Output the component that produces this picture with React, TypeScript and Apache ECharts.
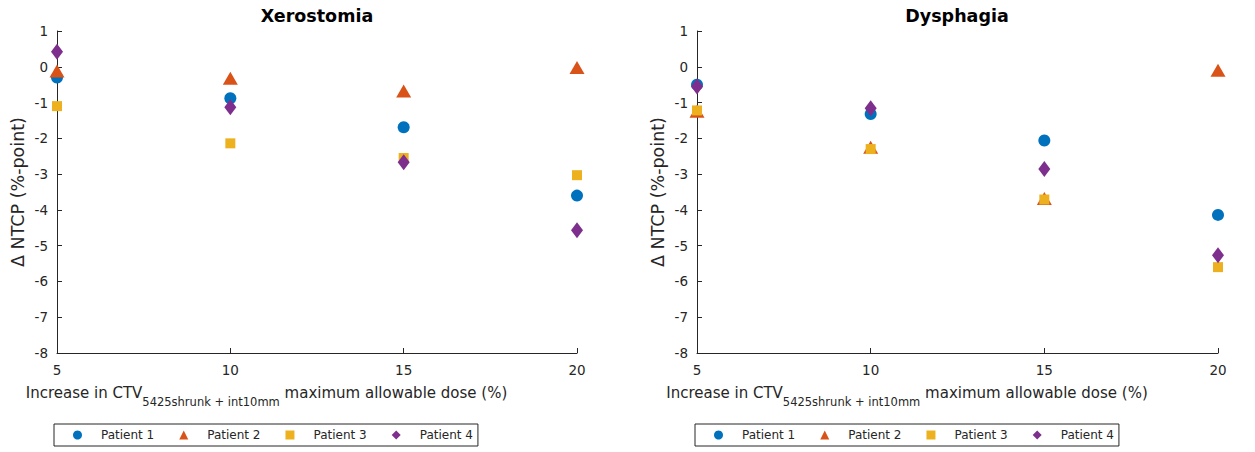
import React, { useEffect, useRef } from "react";
import * as echarts from "echarts";

// ---- data ----
const doseIncrease = [5, 10, 15, 20];
const patientNames = ["Patient 1", "Patient 2", "Patient 3", "Patient 4"];
const yTicks = { min: -8, max: 1, interval: 1 };
const xTicks = { min: 5, max: 20, interval: 5 };

// Xerostomia ΔNTCP (%-point)
const xeroP1 = [-0.3, -0.88, -1.69, -3.6];
const xeroP2 = [-0.12, -0.32, -0.68, -0.02];
const xeroP3 = [-1.1, -2.14, -2.55, -3.03];
const xeroP4 = [0.42, -1.13, -2.67, -4.57];

// Dysphagia ΔNTCP (%-point)
const dysP1 = [-0.5, -1.32, -2.06, -4.14];
const dysP2 = [-1.24, -2.25, -3.68, -0.1];
const dysP3 = [-1.22, -2.3, -3.71, -5.6];
const dysP4 = [-0.55, -1.16, -2.86, -5.27];

const panelTitles = ["Xerostomia", "Dysphagia"];

const colors = ["#0072BD", "#D95319", "#EDB120", "#7E2F8E"];
const symbols = ["circle", "triangle", "rect", "diamond"];
const symbolSizes: any[] = [12, [15, 13], 10, [12, 16]];

const FONT = "DejaVu Sans";
const AXIS = "#262626";

export default function App() {
  const ref = useRef<HTMLDivElement>(null);
  useEffect(() => {
    document.body.style.margin = "0";
    const chart = echarts.init(ref.current!, null, { renderer: "svg" });
    const panels = [
      [xeroP1, xeroP2, xeroP3, xeroP4],
      [dysP1, dysP2, dysP3, dysP4],
    ];
    const grids = [
      { left: 57, top: 31, width: 520, height: 322 },
      { left: 697, top: 31, width: 521, height: 322 },
    ];
    const xAxes = grids.map((_, i) => ({
      type: "value",
      gridIndex: i,
      min: xTicks.min,
      max: xTicks.max,
      interval: xTicks.interval,
      axisLine: { show: true, onZero: false, lineStyle: { color: AXIS, width: 1 } },
      axisTick: { show: true, inside: true, length: 5, lineStyle: { color: AXIS } },
      splitLine: { show: false },
      axisLabel: { color: AXIS, fontSize: 13.5, fontFamily: FONT, margin: 10 },
      name: "{m|Increase in CTV}{s|5425shrunk + int10mm}{e| maximum allowable dose (%)}",
      nameLocation: "middle",
      nameGap: 31,
      nameTextStyle: {
        rich: {
          m: { fontSize: 15, fontFamily: FONT, color: AXIS, lineHeight: 18, verticalAlign: "top" },
          s: { fontSize: 11.5, fontFamily: FONT, color: AXIS, lineHeight: 14, padding: [14, 0, 0, 0] },
          e: { fontSize: 15, fontFamily: FONT, color: AXIS, lineHeight: 18, verticalAlign: "top", padding: [0, 101, 0, 0] },
        },
      },
    }));
    const yAxes = grids.map((_, i) => ({
      type: "value",
      gridIndex: i,
      min: yTicks.min,
      max: yTicks.max,
      interval: yTicks.interval,
      axisLine: { show: true, onZero: false, lineStyle: { color: AXIS, width: 1 } },
      axisTick: { show: true, inside: true, length: 5, lineStyle: { color: AXIS } },
      splitLine: { show: false },
      axisLabel: { color: AXIS, fontSize: 13.5, fontFamily: FONT, margin: 9 },
      name: "Δ NTCP (%-point)",
      nameLocation: "middle",
      nameGap: 30,
      nameTextStyle: { fontSize: 17.5, fontFamily: FONT, color: AXIS },
    }));
    const series: any[] = [];
    panels.forEach((vals, pi) => {
      vals.forEach((arr, si) => {
        series.push({
          type: "scatter",
          name: patientNames[si],
          xAxisIndex: pi,
          yAxisIndex: pi,
          symbol: symbols[si],
          symbolSize: symbolSizes[si],
          itemStyle: { color: colors[si], opacity: 1 },
          data: doseIncrease.map((d, k) => [d, arr[k]]),
        });
      });
    });
    const legendData = patientNames.map((n, i) => ({ name: n, icon: symbols[i] }));
    const legends = [54, 695].map((left) => ({
      left,
      top: 424,
      orient: "horizontal",
      borderColor: AXIS,
      borderWidth: 1,
      padding: [5, 5, 5, 19],
      itemGap: 25,
      itemWidth: 9,
      itemHeight: 9,
      textStyle: { fontSize: 12, fontFamily: FONT, color: AXIS, padding: [0, 0, 0, 14] },
      data: legendData,
      selectedMode: false,
    }));
    chart.setOption({
      animation: false,
      backgroundColor: "#ffffff",
      color: colors,
      grid: grids,
      xAxis: xAxes,
      yAxis: yAxes,
      legend: legends,
      series,
      graphic: panelTitles.map((t, i) => ({
        type: "text",
        x: i === 0 ? 317 : 957,
        y: 16,
        style: {
          text: t,
          align: "center",
          verticalAlign: "middle",
          fontSize: 17.5,
          fontWeight: "bold",
          fontFamily: FONT,
          fill: "#000000",
        },
      })),
    });
    return () => chart.dispose();
  }, []);
  return <div ref={ref} style={{ width: 1255, height: 452 }} />;
}
